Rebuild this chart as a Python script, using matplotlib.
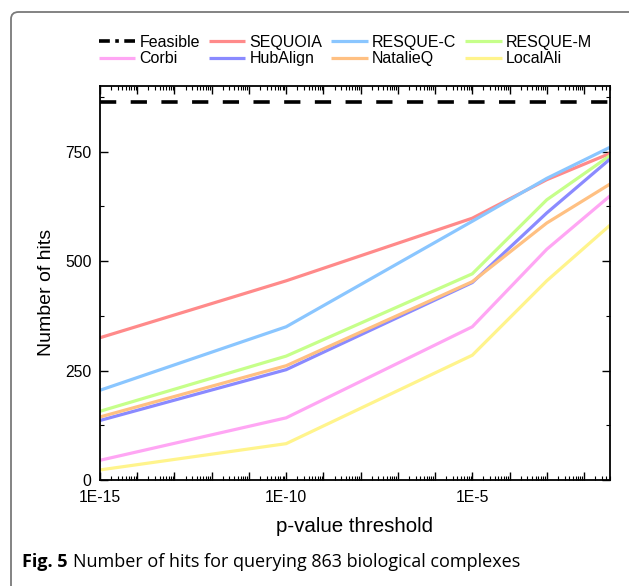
import matplotlib
matplotlib.use("Agg")
import matplotlib.pyplot as plt
from matplotlib.lines import Line2D
from matplotlib.patches import FancyBboxPatch
from matplotlib.ticker import LogLocator, NullFormatter, MultipleLocator

thresholds = [1e-15, 1e-10, 1e-5, 1e-3, 0.05]
feasible = 863
series_names = ["SEQUOIA", "RESQUE-C", "RESQUE-M", "Corbi", "HubAlign", "NatalieQ", "LocalAli"]
sequoia = [325, 455, 598, 686, 746]
resque_c = [205, 350, 591, 689, 760]
resque_m = [157, 283, 471, 640, 741]
corbi = [45, 142, 350, 527, 649]
hubalign = [136, 252, 451, 610, 733]
natalieq = [144, 261, 453, 587, 676]
localali = [23, 83, 285, 455, 582]
series_values = [sequoia, resque_c, resque_m, corbi, hubalign, natalieq, localali]
colors = ["#FF8A8A", "#8AC6FF", "#C6FF8A", "#FFA6F4", "#8A8AFF", "#FFC082", "#FFF48C"]
x_tick_labels = ["1E-15", "1E-10", "1E-5"]
y_ticks = [0, 250, 500, 750]

plt.rcParams['font.family'] = ['Liberation Sans', 'DejaVu Sans']

W, H = 629, 586
fig = plt.figure(figsize=(W / 100, H / 100), dpi=100)
ax = fig.add_axes([100 / W, 1 - 480 / H, 510 / W, 394 / H])

# figure frame with rounded corner
frame = FancyBboxPatch((11 / W, -0.2), 1.5, 1.2 - 12 / H,
                       boxstyle="round,pad=0,rounding_size=0.012",
                       transform=fig.transFigure, fill=False,
                       edgecolor="#7a7a7a", linewidth=1.3, zorder=0)
fig.patches.append(frame)

fl, = ax.plot([thresholds[0], thresholds[-1]], [feasible, feasible], color="black",
              lw=2.6, dashes=(4.5, 4.0), zorder=3)
lines = []
for name, vals, c in zip(series_names, series_values, colors):
    ln, = ax.plot(thresholds, vals, color=c, lw=2.3, label=name, solid_capstyle='butt')
    lines.append(ln)

ax.set_xscale("log")
ax.set_xlim(1e-15, 0.05)
ax.set_ylim(0, 900)
ax.xaxis.set_minor_locator(LogLocator(base=10, subs=range(2, 10), numticks=100))
ax.xaxis.set_minor_formatter(NullFormatter())
major_x = [1e-15, 1e-10, 1e-5] + [10.0 ** e for e in range(-15, -1) if e not in (-15, -10, -5)]
ax.set_xticks(major_x)
ax.set_xticklabels(x_tick_labels + [""] * (len(major_x) - 3))
ax.set_yticks(y_ticks)
ax.yaxis.set_minor_locator(MultipleLocator(125))

ax.tick_params(axis="both", which="major", direction="in", length=6, width=1.0,
               labelsize=11.3, top=True, right=True, pad=6)
ax.tick_params(axis="both", which="minor", direction="in", length=3, width=0.8,
               top=True, right=True)
ax.tick_params(axis="x", which="major", pad=7)
for sp in ax.spines.values():
    sp.set_linewidth(1.3)

ax.set_xlabel("p-value threshold", fontsize=14.8, labelpad=9)
ax.set_ylabel("Number of hits", fontsize=14, labelpad=9)
ax.yaxis.set_label_coords(-45 / 510, 0.475)

# legend rows: Feasible, SEQUOIA, RESQUE-C, RESQUE-M / Corbi, HubAlign, NatalieQ, LocalAli
feas_handle = Line2D([], [], color="black", lw=2.6, linestyle=(0, (3, 1.5, 1, 1.5)))
all_h = [feas_handle] + lines
all_l = ["Feasible"] + series_names
row1 = [0, 1, 2, 3]
row2 = [4, 5, 6, 7]
order = []
for a, b in zip(row1, row2):
    order += [a, b]
leg = fig.legend([all_h[i] for i in order], [all_l[i] for i in order], ncol=4,
                 loc="upper left", bbox_to_anchor=(89 / W, 1 - 25 / H), frameon=False,
                 fontsize=11.5, handlelength=2.3, handletextpad=0.25, columnspacing=0.55,
                 labelspacing=0.1, borderpad=0.1)

fig.text(22 / W, 1 - 567 / H, "Fig. 5", fontsize=13, fontweight="bold",
         family=["Open Sans", "DejaVu Sans"], va="baseline", ha="left")
fig.text(73 / W, 1 - 567 / H, "Number of hits for querying 863 biological complexes",
         fontsize=13, family=["Open Sans", "DejaVu Sans"], va="baseline", ha="left")

fig.savefig("out.png", dpi=100)
